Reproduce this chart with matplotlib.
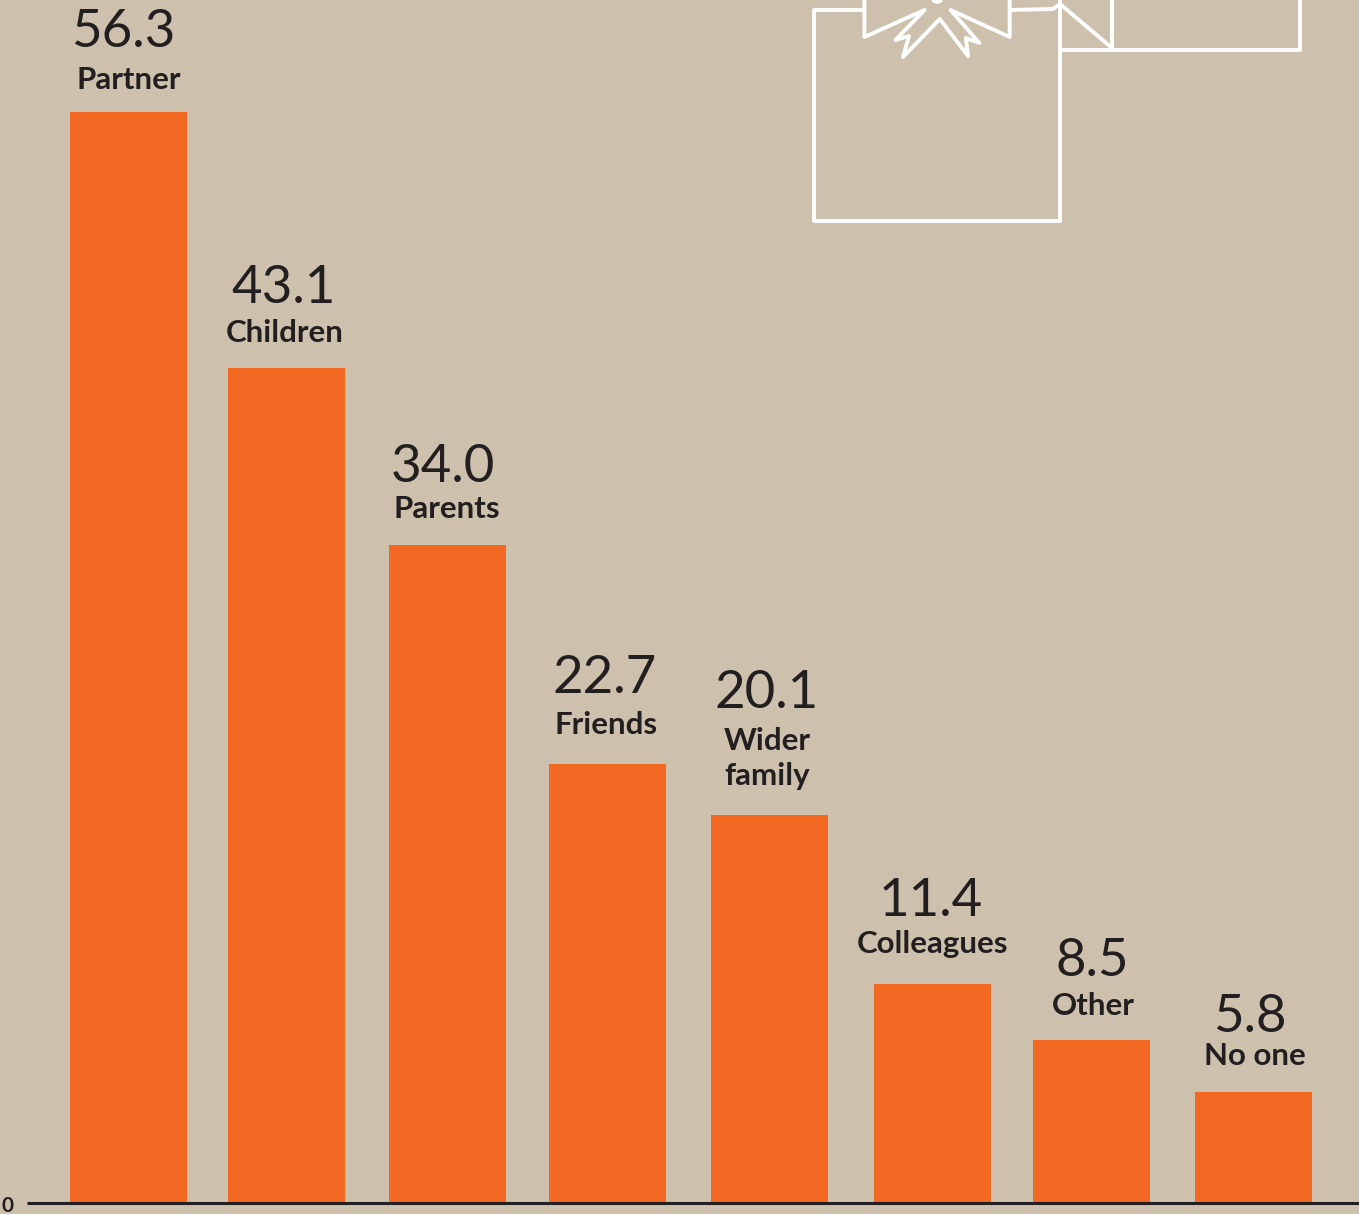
#!/usr/bin/python3

import matplotlib
matplotlib.use('Agg')
import matplotlib.pyplot as plt

# people turned to, share in %
categories = ['Partner', 'Children', 'Parents', 'Friends', 'Wider\nfamily', 'Colleagues', 'Other', 'No one']
values = [56.3, 43.1, 34.0, 22.7, 20.1, 11.4, 8.5, 5.8]
value_labels = ['56.3', '43.1', '34.0', '22.7', '20.1', '11.4', '8.5', '5.8']

bar_centres = [128.5, 286.5, 447.5, 607.5, 769.5, 932.5, 1091.5, 1253.5]
bar_width = 117

# text anchors in pixels from the top left corner
value_x = [123, 284, 443, 605, 767, 931, 1092, 1250]
value_y = [47, 303, 482, 693, 708, 916, 976, 1032]
name_x = [128.5, 285, 447, 606, 767, 932.5, 1093, 1255]
name_y = [89, 342, 518, 734, 785, 953, 1015, 1065]

bg = '#cdc0ac'
orange = '#f36823'
dark = '#231f20'

W, H = 1359, 1214
zero_px = 1205
axis_px = 1203
px_per_unit = 19.41

plt.rcParams['font.family'] = ['Lato', 'DejaVu Sans']

fig = plt.figure(figsize=(W / 100, H / 100), dpi=100, facecolor=bg)

# bars, y axis in data units
ax = fig.add_axes([0, 0, 1, 1], facecolor='none')
ax.set_xlim(0, W)
ax.set_ylim(-(H - zero_px) / px_per_unit, zero_px / px_per_unit)
ax.axis('off')
ax.bar(bar_centres, values, width=bar_width, color=orange, linewidth=0)

# overlay in pixel coordinates for the axis line, text and the gift outline
top = fig.add_axes([0, 0, 1, 1], facecolor='none')
top.set_xlim(0, W)
top.set_ylim(H, 0)
top.axis('off')

top.plot([27, W], [axis_px, axis_px], color=dark, linewidth=2.2, solid_capstyle='butt')

for x, y, s in zip(value_x, value_y, value_labels):
    top.text(x, y, s, fontsize=38, color=dark, ha='center', va='baseline')

for x, y, s in zip(name_x, name_y, categories):
    top.text(x, y, s, fontsize=22.5, color=dark, ha='center', va='baseline',
             fontweight='bold', linespacing=1.3)

top.text(1, 1212, '0', fontsize=15, color=dark, ha='left', va='baseline', fontweight='bold')

# gift boxes
outline = [
    [(864, 10), (814, 10), (814, 220.5), (1060, 220.5), (1060, 0)],
    [(1010, 10), (1053, 9), (1060, 4), (1112, 48)],
    [(1060, 50), (1300, 50), (1300, 0)],
    [(1112, 0), (1112, 50)],
    [(864.4, 0), (864.4, 37), (924.5, 10), (895.5, 40), (909, 36), (903, 57), (939.8, 19),
     (968, 56), (965.8, 38), (979.3, 43), (950.6, 10), (1009.7, 37), (1009.7, 0)],
    [(932, 0), (937, 2), (942, 0)],
]
for pts in outline:
    xs, ys = zip(*pts)
    top.plot(xs, ys, color='white', linewidth=2.8, solid_joinstyle='round', solid_capstyle='butt')

fig.savefig('out.png', dpi=100, facecolor=bg)
